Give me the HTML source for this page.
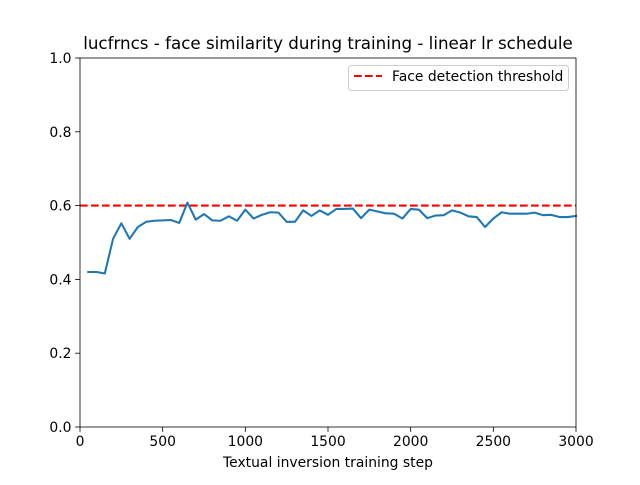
<!DOCTYPE html>
<html><head><meta charset="utf-8"><style>
body{margin:0;background:#fff;}
svg{font-family:"DejaVu Sans","Liberation Sans",sans-serif;}
</style></head><body>
<svg id="c" width="640" height="480" xmlns="http://www.w3.org/2000/svg"></svg>
<script>
const steps = [50,100,150,200,250,300,350,400,450,500,550,600,650,700,750,800,850,900,950,1000,1050,1100,1150,1200,1250,1300,1350,1400,1450,1500,1550,1600,1650,1700,1750,1800,1850,1900,1950,2000,2050,2100,2150,2200,2250,2300,2350,2400,2450,2500,2550,2600,2650,2700,2750,2800,2850,2900,2950,3000];
const similarity = [0.42,0.42,0.416,0.51,0.552,0.51,0.542,0.556,0.559,0.56,0.561,0.553,0.608,0.562,0.577,0.56,0.559,0.571,0.559,0.589,0.565,0.575,0.582,0.581,0.556,0.556,0.587,0.572,0.587,0.575,0.591,0.591,0.592,0.566,0.589,0.584,0.579,0.578,0.565,0.591,0.589,0.566,0.573,0.574,0.587,0.581,0.571,0.569,0.542,0.565,0.582,0.578,0.578,0.578,0.581,0.574,0.575,0.569,0.569,0.572];
const threshold = [0.6];
const xTicks = [0,500,1000,1500,2000,2500,3000];
const yTicks = [0.0,0.2,0.4,0.6,0.8,1.0];
const yTickLabels = ["0.0","0.2","0.4","0.6","0.8","1.0"];

const L=80,R=576,T=58,B=427;
const xs=v=>L+(v-0)/(3000-0)*(R-L);
const ys=v=>B-(v-0)/(1-0)*(B-T);
const svg=document.getElementById('c');
const NS='http://www.w3.org/2000/svg';
function mk(tag,attrs,parent){const e=document.createElementNS(NS,tag);for(const k in attrs)e.setAttribute(k,attrs[k]);(parent||svg).appendChild(e);return e;}

let t=mk('text',{x:328,y:49,'text-anchor':'middle','font-size':16.7,fill:'#000'});


t.textContent='lucfrncs - face similarity during training - linear lr schedule';

xTicks.forEach(v=>{
  const g=mk('g',{});
  
  
  mk('line',{x1:xs(v),x2:xs(v),y1:B,y2:B+4.9,stroke:'#000','stroke-width':0.8},g);
  const tx=mk('text',{x:xs(v),y:B+19,'text-anchor':'middle','font-size':13.9,fill:'#000'},g);
  tx.textContent=v;
});
yTicks.forEach((v,i)=>{
  const g=mk('g',{});
  
  
  mk('line',{x1:L-4.9,x2:L,y1:ys(v),y2:ys(v),stroke:'#000','stroke-width':0.8},g);
  const tx=mk('text',{x:L-8.5,y:ys(v)+5,'text-anchor':'end','font-size':13.9,fill:'#000'},g);
  tx.textContent=yTickLabels[i];
});
let xl=mk('text',{x:328,y:467,'text-anchor':'middle','font-size':13.9,fill:'#000'});


xl.textContent='Textual inversion training step';

let th=mk('line',{x1:L,x2:R,y1:ys(threshold[0]),y2:ys(threshold[0]),stroke:'#ff0000','stroke-width':2.08,'stroke-dasharray':'7.7,3.3'});



let d=steps.map((s,i)=>(i?'L':'M')+xs(s).toFixed(2)+','+ys(similarity[i]).toFixed(2)).join('');
let ln=mk('path',{d:d,fill:'none',stroke:'#1f77b4','stroke-width':2.08,'stroke-linejoin':'round','stroke-linecap':'square'});



let fr=mk('rect',{x:L,y:T,width:R-L,height:B-T,fill:'none',stroke:'#000','stroke-width':0.8});



const lg=mk('g',{});


mk('rect',{x:348.5,y:65.5,width:220,height:25,rx:3,fill:'#fff','fill-opacity':0.8,stroke:'#ccc','stroke-width':1},lg);
mk('line',{x1:354,x2:382,y1:76,y2:76,stroke:'#ff0000','stroke-width':2.08,'stroke-dasharray':'7.7,3.3'},lg);
const lt=mk('text',{x:392,y:81,'font-size':13.9,fill:'#000'},lg);
lt.textContent='Face detection threshold';
</script>
</body></html>
